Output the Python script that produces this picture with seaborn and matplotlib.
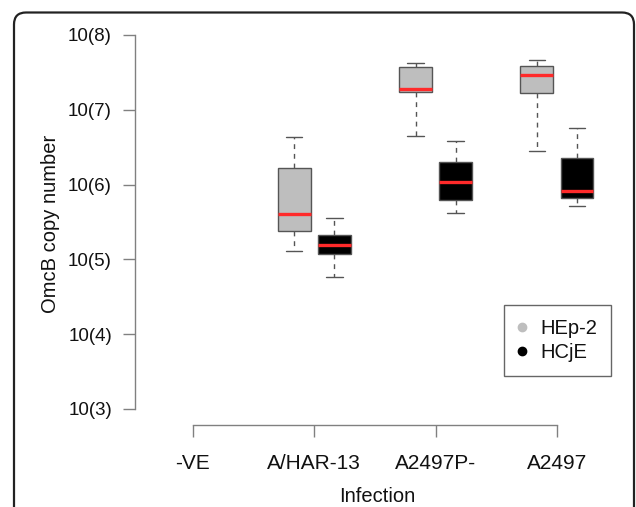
import matplotlib
matplotlib.use("Agg")
import matplotlib.pyplot as plt
from matplotlib.lines import Line2D
from matplotlib.patches import FancyBboxPatch
import seaborn as sns
import pandas as pd

# categories
infections = ["-VE", "A/HAR-13", "A2497P-", "A2497"]
cell_lines = ["HEp-2", "HCjE"]
ytick_vals = [3, 4, 5, 6, 7, 8]
ytick_labels = ["10(3)", "10(4)", "10(5)", "10(6)", "10(7)", "10(8)"]

# log10 OmcB copy number per group: min, Q1, median, Q3, max
har13_hep2 = [5.11, 5.38, 5.61, 6.22, 6.64]
har13_hcje = [4.77, 5.07, 5.19, 5.33, 5.56]
a2497p_hep2 = [6.65, 7.24, 7.28, 7.57, 7.63]
a2497p_hcje = [5.62, 5.80, 6.04, 6.30, 6.58]
a2497_hep2 = [6.45, 7.23, 7.46, 7.59, 7.66]
a2497_hcje = [5.72, 5.82, 5.92, 6.35, 6.75]

groups = [
    ("A/HAR-13", "HEp-2", har13_hep2),
    ("A/HAR-13", "HCjE", har13_hcje),
    ("A2497P-", "HEp-2", a2497p_hep2),
    ("A2497P-", "HCjE", a2497p_hcje),
    ("A2497", "HEp-2", a2497_hep2),
    ("A2497", "HCjE", a2497_hcje),
]
rows = []
for inf, cell, vals in groups:
    for v in vals:
        rows.append({"Infection": inf, "Cell": cell, "logcopy": v})
df = pd.DataFrame(rows)

sns.set_style("ticks")
plt.rcParams["font.family"] = ["Liberation Sans", "DejaVu Sans"]
plt.rcParams["text.color"] = "#111111"
plt.rcParams["axes.labelcolor"] = "#111111"
plt.rcParams["xtick.labelcolor"] = "#111111"
plt.rcParams["ytick.labelcolor"] = "#111111"

fig = plt.figure(figsize=(6.36, 5.07), dpi=100)

# rounded panel frame
fig.add_artist(FancyBboxPatch((0.14, -0.5), 6.20, 5.445,
                              boxstyle="round,pad=0,rounding_size=0.12",
                              transform=fig.dpi_scale_trans, fill=False,
                              lw=1.6, ec="#222222"))

ax = fig.add_axes([135 / 636, 82 / 507, 485 / 636, 390 / 507])

pal = {"HEp-2": "#bebebe", "HCjE": "#000000"}
sns.boxplot(
    data=df, x="Infection", y="logcopy", hue="Cell",
    order=infections, hue_order=cell_lines, palette=pal,
    saturation=1, width=0.66, gap=0.18, whis=(0, 100),
    linecolor="#555555", linewidth=1,
    medianprops={"color": "#ff2a2a", "linewidth": 2.4},
    whiskerprops={"linestyle": (0, (3.5, 3.5))},
    legend=False, ax=ax,
)

ax.set_xlim(-0.478, 3.52)
ax.set_ylim(2.786, 8.0)
ax.set_yticks(ytick_vals)
ax.set_yticklabels(ytick_labels)

sns.despine(ax=ax)
ax.spines["left"].set_bounds(3, 8)
ax.spines["bottom"].set_bounds(0, 3)
for s in ["left", "bottom"]:
    ax.spines[s].set_color("#808080")
    ax.spines[s].set_linewidth(1)
ax.tick_params(axis="both", direction="out", length=8.6, width=1, color="#808080")
ax.tick_params(axis="y", labelsize=13.5, pad=8)
ax.tick_params(axis="x", labelsize=15, pad=12)

ax.set_xlabel("Infection", fontsize=14.5, labelpad=10.5)
ax.set_ylabel("OmcB copy number", fontsize=14.5)
ax.yaxis.set_label_coords(-0.155, 0.515)

handles = [Line2D([], [], marker="o", ls="", color=pal[c], markersize=6) for c in cell_lines]
fig.legend(handles, cell_lines, loc="upper left",
           bbox_to_anchor=(504 / 636, (507 - 305) / 507),
           borderaxespad=0, fontsize=14.5, frameon=True, fancybox=False,
           edgecolor="#666666", framealpha=1, borderpad=0.7,
           handlelength=0.4, handletextpad=0.7, labelspacing=0.25)

fig.savefig("out.png", dpi=100)
